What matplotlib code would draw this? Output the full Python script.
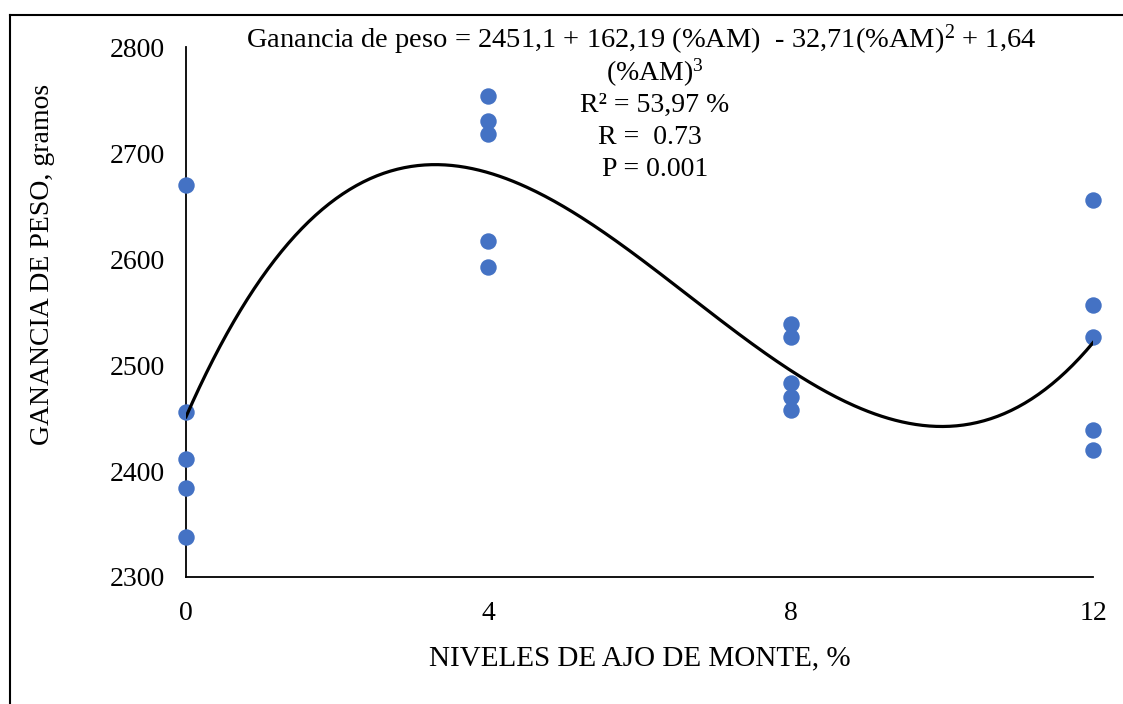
import numpy as np
import matplotlib
matplotlib.use("Agg")
import matplotlib.pyplot as plt
from matplotlib.lines import Line2D

plt.rcParams['font.family'] = ['Liberation Serif', 'DejaVu Serif']
plt.rcParams['mathtext.fontset'] = 'custom'
plt.rcParams['mathtext.rm'] = 'Liberation Serif'
plt.rcParams['mathtext.it'] = 'Liberation Serif:italic'

# Data
nivel_x = [0, 0, 0, 0, 0,
           4, 4, 4, 4, 4,
           8, 8, 8, 8, 8,
           12, 12, 12, 12, 12]
ganancia_y = [2670, 2456, 2411, 2384, 2338,
              2754, 2730, 2718, 2617, 2592,
              2539, 2526, 2483, 2470, 2458,
              2656, 2557, 2526, 2439, 2420]
coef = [2451.1, 162.19, -32.71, 1.64]  # trendline coefficients (from equation)
x_ticks = [0, 4, 8, 12]
y_ticks = [2300, 2400, 2500, 2600, 2700, 2800]

fig = plt.figure(figsize=(11.23, 7.04), dpi=100)
ax = fig.add_axes([0.1656, 0.1804, 0.9733 - 0.1656, 0.9332 - 0.1804])

ax.scatter(nivel_x, ganancia_y, s=140, color='#4472C4', zorder=3, clip_on=False,
           linewidths=0)
xs = np.linspace(0, 12, 400)
ys = coef[0] + coef[1] * xs + coef[2] * xs**2 + coef[3] * xs**3
ax.plot(xs, ys, color='black', lw=2.3, zorder=4)

ax.set_xlim(0, 12)
ax.set_ylim(2300, 2800)
ax.set_xticks(x_ticks)
ax.set_yticks(y_ticks)
ax.tick_params(axis='y', length=0, labelsize=20, pad=15)
ax.tick_params(axis='x', length=0, labelsize=20, pad=17)
for s in ['top', 'right']:
    ax.spines[s].set_visible(False)
for s in ['left', 'bottom']:
    ax.spines[s].set_linewidth(1.3)
ax.set_xlabel('NIVELES DE AJO DE MONTE, %', fontsize=21, labelpad=14)
ax.set_ylabel('GANANCIA DE PESO, gramos', fontsize=20)
ax.yaxis.set_label_coords(-0.1444, 0.589)

fs = 20
fig.text(641 / 1123, 1 - 40 / 704,
         r'Ganancia de peso = 2451,1 + 162,19 (%AM)  - 32,71(%AM)$^{2}$ + 1,64',
         ha='center', va='center', fontsize=20.5)
fig.text(655 / 1123, 1 - 73 / 704, r'(%AM)$^{3}$', ha='center', va='center', fontsize=fs)
fig.text(655 / 1123, 1 - 105 / 704, 'R² = 53,97 %', ha='center', va='center', fontsize=fs)
fig.text(650 / 1123, 1 - 138 / 704, 'R =  0.73', ha='center', va='center', fontsize=fs)
fig.text(655 / 1123, 1 - 170 / 704, 'P = 0.001', ha='center', va='center', fontsize=fs)

# outer frame (top and left visible)
fig.add_artist(Line2D([10 / 1123, 1.0], [1 - 15 / 704, 1 - 15 / 704], color='black', lw=1.5,
                      transform=fig.transFigure))
fig.add_artist(Line2D([10 / 1123, 10 / 1123], [0, 1 - 15 / 704], color='black', lw=1.5,
                      transform=fig.transFigure))

fig.savefig('out.png', dpi=100)
